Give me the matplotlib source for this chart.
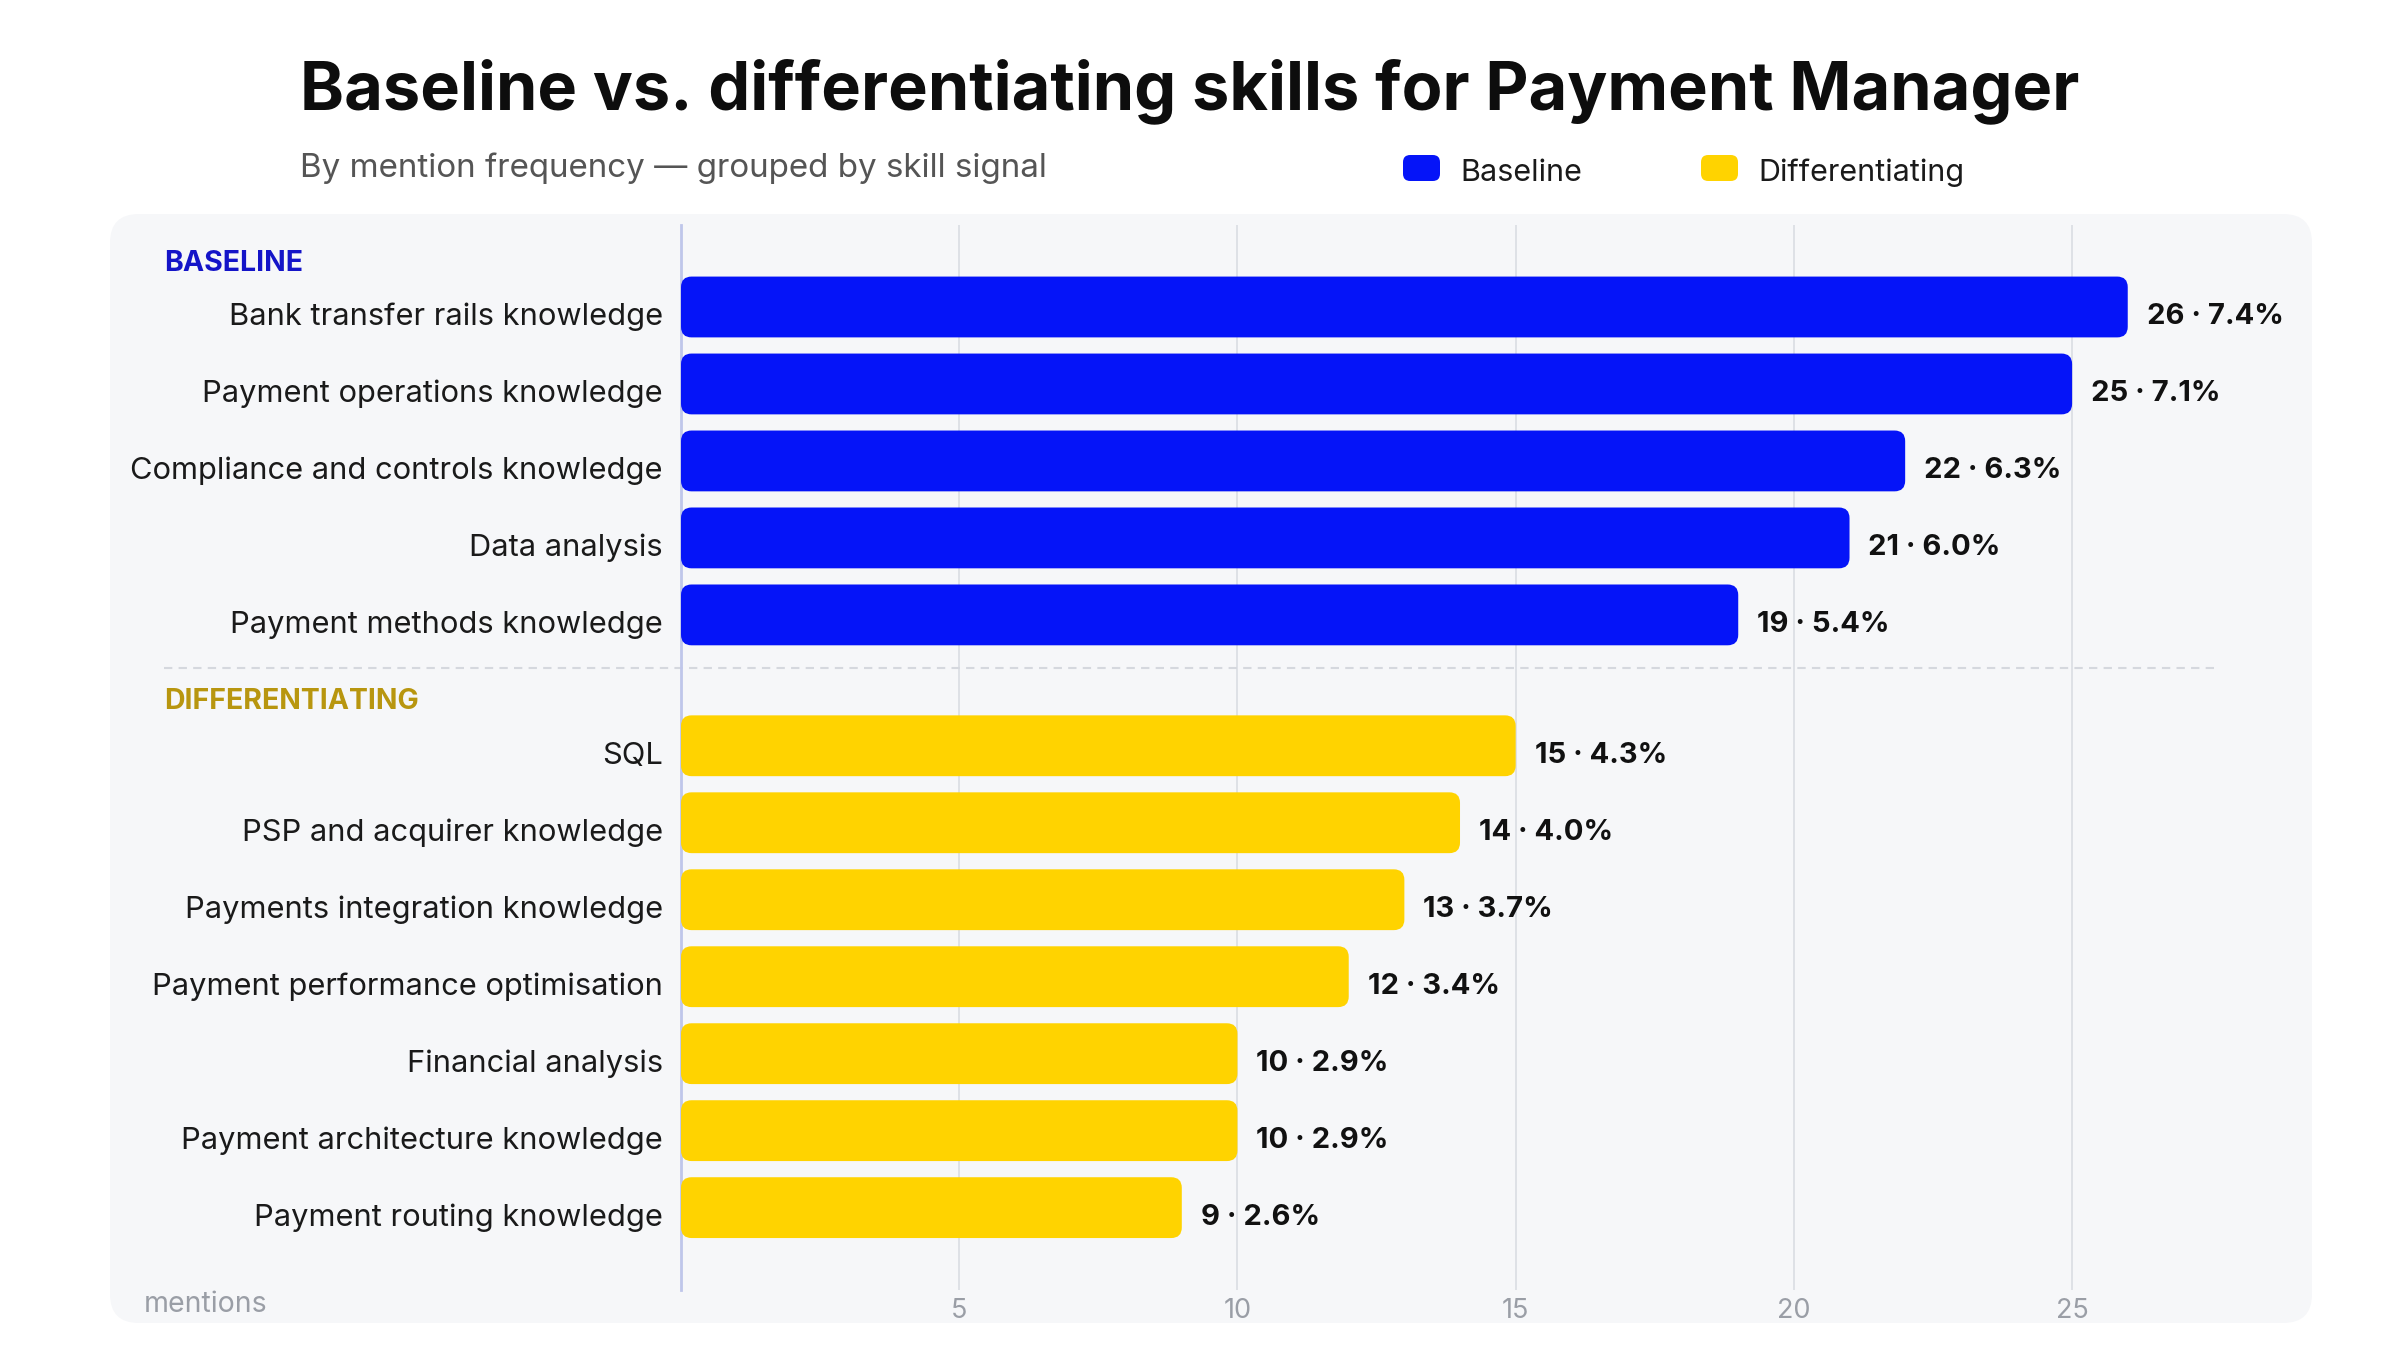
import matplotlib
matplotlib.use("Agg")
import matplotlib.pyplot as plt
from matplotlib.patches import FancyBboxPatch
from matplotlib.transforms import ScaledTranslation

plt.rcParams['font.family'] = ['Inter', 'DejaVu Sans']

# ---- data ----
baseline_skills = ["Bank transfer rails knowledge", "Payment operations knowledge",
                   "Compliance and controls knowledge", "Data analysis",
                   "Payment methods knowledge"]
baseline_counts = [26, 25, 22, 21, 19]
baseline_pct = [7.4, 7.1, 6.3, 6.0, 5.4]

diff_skills = ["SQL", "PSP and acquirer knowledge", "Payments integration knowledge",
               "Payment performance optimisation", "Financial analysis",
               "Payment architecture knowledge", "Payment routing knowledge"]
diff_counts = [15, 14, 13, 12, 10, 10, 9]
diff_pct = [4.3, 4.0, 3.7, 3.4, 2.9, 2.9, 2.6]

x_ticks = [5, 10, 15, 20, 25]

title = "Baseline vs. differentiating skills for Payment Manager"
subtitle = "By mention frequency \u2014 grouped by skill signal"

BLUE = "#0514F8"
YELLOW = "#FFD300"
BLUE_HDR = "#1414C8"
GOLD_HDR = "#B8960F"

W, H = 2400, 1366
fig = plt.figure(figsize=(W / 100, H / 100), dpi=100)
fig.patch.set_facecolor("white")

# panel background
PX0, PX1, PY0, PY1 = 110, 2312, 214, 1323
panel = FancyBboxPatch((PX0 / W, 1 - PY1 / H), (PX1 - PX0) / W, (PY1 - PY0) / H,
                       boxstyle="round,pad=0,rounding_size=0.012",
                       mutation_aspect=W / H,
                       transform=fig.transFigure, facecolor="#F6F7F9",
                       edgecolor="none", zorder=0)
fig.patches.append(panel)

AX0, AX1, AY0, AY1 = 681, 2219, 225, 1290
ax = fig.add_axes([AX0 / W, 1 - AY1 / H, (AX1 - AX0) / W, (AY1 - AY0) / H])
ax.set_facecolor("none")
ax.set_zorder(2)

gap = 0.70
y_base = list(range(len(baseline_skills)))
y_diff = [len(baseline_skills) + gap + i for i in range(len(diff_skills))]

XMAX = 27.64
YTOP, YBOT = -1.065, 12.77
ax.set_xlim(0, XMAX)
ax.set_ylim(YBOT, YTOP)

bar_h = 0.79
xunit_px = (AX1 - AX0) / XMAX
yunit_px = (AY1 - AY0) / (YBOT - YTOP)
aspect = xunit_px / yunit_px

def rounded_bars(ys, vals, color):
    bars = ax.barh(ys, vals, height=bar_h, color="none", edgecolor="none")
    for b in bars:
        x0, y0 = b.get_x(), b.get_y()
        w, h = b.get_width(), b.get_height()
        p = FancyBboxPatch((x0, y0), w, h,
                           boxstyle="round,pad=0,rounding_size=0.19",
                           mutation_aspect=aspect,
                           facecolor=color, edgecolor="none", zorder=3)
        ax.add_patch(p)
    return bars

rounded_bars(y_base, baseline_counts, BLUE)
rounded_bars(y_diff, diff_counts, YELLOW)

label_shift = ScaledTranslation(0, -7 / 100, fig.dpi_scale_trans)
value_shift = ScaledTranslation(0, -10 / 100, fig.dpi_scale_trans)

# value labels
for ys, cs, ps in [(y_base, baseline_counts, baseline_pct), (y_diff, diff_counts, diff_pct)]:
    for y, c, p in zip(ys, cs, ps):
        ax.text(c + 0.34, y, f"{c} \u00b7 {p:.1f}%", va="center", ha="left",
                fontsize=21, fontweight="bold", color="#111111", clip_on=False, zorder=4,
                transform=ax.transData + value_shift)

# category labels
ax.set_yticks(y_base + y_diff)
ax.set_yticklabels(baseline_skills + diff_skills, fontsize=22.2, color="#1a1a1a")
ax.tick_params(axis="y", length=0, pad=13)
for lbl in ax.get_yticklabels():
    lbl.set_transform(lbl.get_transform() + label_shift)

# x ticks
ax.set_xticks(x_ticks)
ax.set_xticklabels([str(t) for t in x_ticks], fontsize=19.5, color="#9A9EA6")
ax.tick_params(axis="x", length=0, pad=6)

for s in ["top", "right", "bottom"]:
    ax.spines[s].set_visible(False)
ax.spines["left"].set_color("#BFC6EA")
ax.spines["left"].set_linewidth(2)
ax.grid(axis="x", color="#DADDE3", linewidth=1.2, zorder=0)
ax.set_axisbelow(True)

# group headers
hdr_x = (164 - AX0) / xunit_px
ax.text(hdr_x, y_base[0] - 0.57, "BASELINE", fontsize=20.5, fontweight="bold",
        color=BLUE_HDR, ha="left", va="center", clip_on=False)
ax.text(hdr_x, y_diff[0] - 0.57, "DIFFERENTIATING", fontsize=20.5, fontweight="bold",
        color=GOLD_HDR, ha="left", va="center", clip_on=False)
sep_y = 4.69
ax.plot([hdr_x, XMAX], [sep_y, sep_y], linestyle=(0, (4, 3)), color="#D5D8DE",
        linewidth=1.5, clip_on=False, zorder=1)

# title, subtitle
fig.text(1190 / W, 1 - 91 / H, title, ha="center", va="center", fontsize=48,
         fontweight="bold", color="#0d0d0d")
fig.text(300 / W, 1 - 168 / H, subtitle, ha="left", va="center", fontsize=23.9,
         color="#555555")

# legend
for xs, xt, col, lab in [(1403, 1460, BLUE, "Baseline"), (1701, 1758, YELLOW, "Differentiating")]:
    sq = FancyBboxPatch((xs / W, 1 - 181 / H), 37 / W, 26 / H,
                        boxstyle="round,pad=0,rounding_size=0.003",
                        mutation_aspect=W / H, transform=fig.transFigure,
                        facecolor=col, edgecolor="none")
    fig.patches.append(sq)
    fig.text(xt / W, 1 - 173 / H, lab, ha="left", va="center", fontsize=22,
             color="#1a1a1a")

fig.text(144 / W, 1 - 1304 / H, "mentions", ha="left", va="center", fontsize=20.5,
         color="#9A9EA6")

fig.savefig("out.png", dpi=100)
